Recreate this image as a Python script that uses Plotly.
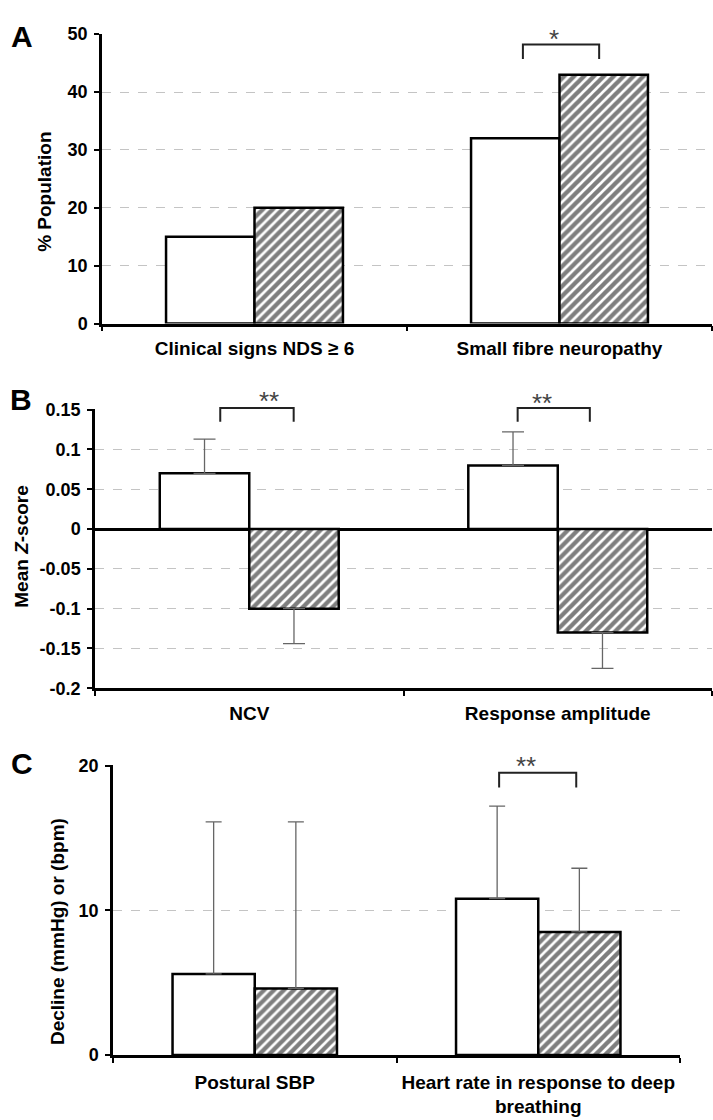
import plotly.graph_objects as go

W, H = 713, 1120

# ---------------- data ----------------
a_categories = ["Clinical signs NDS ≥ 6", "Small fibre neuropathy"]
a_open = [15, 32]
a_hatched = [20, 43]
a_yticks = [0, 10, 20, 30, 40, 50]
a_range = [0, 50]

b_categories = ["NCV", "Response amplitude"]
b_open = [0.07, 0.08]
b_open_err = [0.043, 0.042]
b_hatched = [-0.10, -0.13]
b_hatched_err = [0.044, 0.045]
b_yticks = [-0.2, -0.15, -0.1, -0.05, 0, 0.05, 0.1, 0.15]
b_yticktext = ["-0.2", "-0.15", "-0.1", "-0.05", "0", "0.05", "0.1", "0.15"]
b_range = [-0.2, 0.15]

c_categories = ["Postural SBP", "Heart rate in response to deep<br>breathing"]
c_open = [5.6, 10.8]
c_open_err = [10.5, 6.4]
c_hatched = [4.6, 8.5]
c_hatched_err = [11.5, 4.4]
c_yticks = [0, 10, 20]
c_range = [0, 20]

# significance brackets (panel index, category index, offsets, heights in data units, label)
brk_panel = [0, 1, 1, 2]
brk_cat = [1, 0, 1, 1]
brk_left = [-0.12, -0.094, -0.13, -0.138]
brk_right = [0.13, 0.144, 0.104, 0.134]
brk_top = [48.1, 0.1515, 0.1515, 19.46]
brk_bottom = [45.6, 0.134, 0.134, 18.44]
brk_label_y = [50.2, 0.169, 0.167, 20.4]
brk_label = ["*", "**", "**", "**"]

FONT = "Liberation Sans, Arial, Helvetica, sans-serif"
axis_suffix = ["", "2", "3"]
y_ranges = [a_range, b_range, c_range]
n_cats = 2


def px2paper_x(p):
    return p / W


def px2paper_y(p):
    return 1 - p / H


def ydom(panel, v):
    lo, hi = y_ranges[panel]
    return (v - lo) / (hi - lo)


def xdom(v):
    return (v + 0.5) / n_cats


fig = go.Figure()

hatch = dict(shape="/", fgcolor="black", bgcolor="white", size=7, solidity=0.62)
line = dict(color="black", width=2.5)
err_col = "#666666"


def add_pair(cats, openv, hatchv, ax, open_err=None, hatch_err=None, hatch_minus=False, capw=11):
    xa = "x" + ax
    ya = "y" + ax
    e1 = None
    e2 = None
    if open_err is not None:
        e1 = dict(type="data", symmetric=False, array=open_err, arrayminus=[0] * len(open_err),
                  color=err_col, thickness=1.3, width=capw)
    if hatch_err is not None:
        if hatch_minus:
            e2 = dict(type="data", symmetric=False, array=[0] * len(hatch_err), arrayminus=hatch_err,
                      color=err_col, thickness=1.3, width=capw)
        else:
            e2 = dict(type="data", symmetric=False, array=hatch_err, arrayminus=[0] * len(hatch_err),
                      color=err_col, thickness=1.3, width=capw)
    fig.add_trace(go.Bar(x=cats, y=openv, xaxis=xa, yaxis=ya, marker=dict(color="white", line=line),
                         error_y=e1, showlegend=False, hoverinfo="skip"))
    fig.add_trace(go.Bar(x=cats, y=hatchv, xaxis=xa, yaxis=ya,
                         marker=dict(color="white", pattern=hatch, line=line),
                         error_y=e2, showlegend=False, hoverinfo="skip"))


add_pair(a_categories, a_open, a_hatched, "")
add_pair(b_categories, b_open, b_hatched, "2", b_open_err, b_hatched_err, hatch_minus=True, capw=11)
add_pair(c_categories, c_open, c_hatched, "3", c_open_err, c_hatched_err, capw=8)

tickfont_x = dict(family=FONT, size=19, color="black", weight="bold")
tickfont_y = dict(family=FONT, size=18, color="black", weight="bold")
grid = dict(showgrid=True, gridcolor="#c4c4c4", griddash="dash", gridwidth=1)

xcommon = dict(type="category", tickson="boundaries", ticks="outside", ticklen=5, tickwidth=2,
               tickcolor="black", showline=True, linecolor="black", linewidth=2.5,
               tickfont=tickfont_x, showgrid=False, zeroline=False, fixedrange=True)
ycommon = dict(ticks="outside", ticklen=5, tickwidth=2, tickcolor="black", showline=True,
               linecolor="black", linewidth=2.5, tickfont=tickfont_y, fixedrange=True,
               ticklabelstandoff=3, **grid)


def padded(r):
    return [r[0], r[1] + (r[1] - r[0]) * 0.002]


fig.update_layout(
    width=W, height=H,
    margin=dict(l=0, r=0, t=0, b=0),
    paper_bgcolor="white", plot_bgcolor="white",
    barmode="group", bargap=0.42, bargroupgap=0,
    showlegend=False,
    xaxis=dict(domain=[px2paper_x(102), px2paper_x(712)], anchor="y", ticklabelstandoff=6, **xcommon),
    yaxis=dict(domain=[px2paper_y(320), px2paper_y(25)], anchor="x", range=padded(a_range),
               tickvals=a_yticks, zeroline=False, **ycommon),
    xaxis2=dict(domain=[px2paper_x(95), px2paper_x(712)], anchor="y2", ticklabelstandoff=6, **xcommon),
    yaxis2=dict(domain=[px2paper_y(691), px2paper_y(407)], anchor="x2", range=padded(b_range),
                tickvals=b_yticks, ticktext=b_yticktext, zeroline=True, zerolinecolor="black",
                zerolinewidth=2.5, **ycommon),
    xaxis3=dict(domain=[px2paper_x(113), px2paper_x(680)], anchor="y3", ticklabelstandoff=8, **xcommon),
    yaxis3=dict(domain=[px2paper_y(1064), px2paper_y(769)], anchor="x3", range=padded(c_range),
                tickvals=c_yticks, zeroline=False, **ycommon),
)

# brackets and stars
for i in range(len(brk_cat)):
    p = brk_panel[i]
    xr = "x" + axis_suffix[p] + " domain"
    yr = "y" + axis_suffix[p] + " domain"
    x0 = xdom(brk_cat[i] + brk_left[i])
    x1 = xdom(brk_cat[i] + brk_right[i])
    yt = ydom(p, brk_top[i])
    yb = ydom(p, brk_bottom[i])
    fig.add_shape(type="path", xref=xr, yref=yr,
                  path=f"M {x0},{yb} L {x0},{yt} L {x1},{yt} L {x1},{yb}",
                  line=dict(color="#222222", width=2))
    fig.add_annotation(x=(x0 + x1) / 2, y=ydom(p, brk_label_y[i]), xref=xr, yref=yr, text=brk_label[i],
                       showarrow=False, yshift=-7, yanchor="middle",
                       font=dict(family=FONT, size=26, color="#444444"))

# axis titles
titles = [("% Population", 45, 186), ("Mean <i>Z</i>-score", 22, 547), ("Decline (mmHg) or (bpm)", 57, 939)]
for t, xp, yp in titles:
    fig.add_annotation(x=px2paper_x(xp), y=px2paper_y(yp), xref="paper", yref="paper", text=t,
                       textangle=-90, showarrow=False, xanchor="center", yanchor="middle",
                       font=dict(family=FONT, size=19, color="black", weight="bold"))

# panel letters
letters = [("A", 22, 28), ("B", 21, 397), ("C", 22, 768)]
for t, xp, yp in letters:
    fig.add_annotation(x=px2paper_x(xp), y=px2paper_y(yp), xref="paper", yref="paper", text=t,
                       showarrow=False, xanchor="center", yanchor="middle",
                       font=dict(family=FONT, size=30, color="black", weight="bold"))

fig.write_html("out.html", config={"displayModeBar": False},
               post_script="document.body.style.margin='0';document.body.style.overflow='hidden';")
